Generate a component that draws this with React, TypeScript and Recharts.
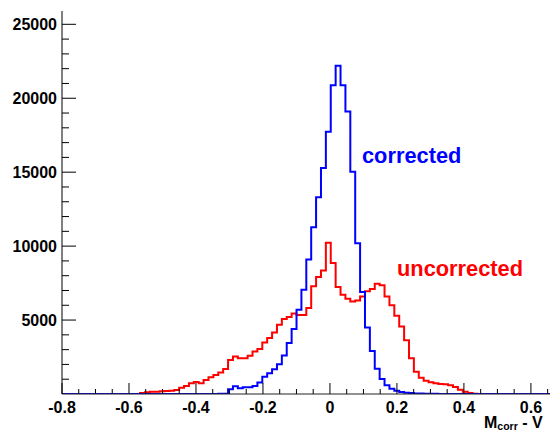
import React from 'react';
import { LineChart, Line, XAxis, YAxis } from 'recharts';

// histogram bins: left edge of first bin and bin width
const firstEdge = -0.567;
const binWidth = 0.0146;

const blueCounts = [
  0, 0, 0, 0, 0, 0, 0, 0, 0, 0,
  0, 0, 0, 0, 0, 0, 10, 20, 320, 520,
  390, 450, 450, 540, 770, 1170, 1400, 1670, 2010, 2600,
  3450, 4400, 5700, 7050, 9090, 11280, 13310, 15280, 17740, 20880,
  22190, 20880, 19100, 15030, 10190, 6890, 4500, 2900, 1700, 1020,
  600, 350, 220, 130, 80, 60, 40, 30, 20, 10,
  10, 0, 0, 0, 0, 0, 0, 0, 0,
];

const redCounts = [
  60, 120, 150, 160, 180, 200, 220, 270, 430, 540,
  730, 810, 730, 950, 1130, 1290, 1450, 1690, 2300, 2530,
  2420, 2420, 2580, 2870, 3050, 3480, 3780, 4160, 4680, 5080,
  5200, 5450, 5350, 5350, 5810, 7280, 7910, 8360, 10220, 8860,
  7230, 6710, 6440, 6260, 6330, 6600, 6940, 7100, 7450, 7350,
  6600, 6000, 5300, 4560, 3630, 2420, 1500, 1100, 900, 800,
  730, 670, 660, 600, 480, 280, 150, 60, 20,
];

const xMin = -0.8;
const xMax = 0.657;
const xMajorTicks = [-0.8, -0.6, -0.4, -0.2, 0, 0.2, 0.4, 0.6];
const yMajorTicks = [5000, 10000, 15000, 20000, 25000];

const xTicks: number[] = [];
for (let i = 0; i <= 29; i++) xTicks.push(+(xMin + i * 0.05).toFixed(2));
const yTicks: number[] = [];
for (let i = 1; i <= 25; i++) yTicks.push(i * 1000);

const data: { x: number; blue: number; red: number }[] = [{ x: xMin, blue: 0, red: 0 }];
blueCounts.forEach((b, i) => {
  data.push({ x: firstEdge + i * binWidth, blue: b, red: redCounts[i] });
});
data.push({ x: firstEdge + blueCounts.length * binWidth, blue: 0, red: 0 });
data.push({ x: xMax, blue: 0, red: 0 });

const font = '"Liberation Sans", Arial, Helvetica, sans-serif';

const XTick = (props: any) => {
  const { x, y, payload } = props;
  const v = payload.value;
  const major = xMajorTicks.some((m) => Math.abs(m - v) < 1e-6);
  const label = Math.abs(v) < 1e-6 ? '0' : v.toFixed(1);
  return (
    <g>
      <line x1={x} x2={x} y1={y} y2={y - (major ? 11 : 5)} stroke="#000" strokeWidth={1} />
      {major && (
        <text x={x} y={y + 18.5} textAnchor="middle" fontFamily={font} fontWeight="bold" fontSize={16} fill="#000">
          {label}
        </text>
      )}
    </g>
  );
};

const YTick = (props: any) => {
  const { x, y, payload } = props;
  const v = payload.value;
  const major = yMajorTicks.includes(v);
  return (
    <g>
      <line x1={x} x2={x + (major ? 14 : 7)} y1={y} y2={y} stroke="#000" strokeWidth={1} />
      {major && (
        <text x={x - 5} y={y + 5.5} textAnchor="end" fontFamily={font} fontWeight="bold" fontSize={16} fill="#000">
          {v}
        </text>
      )}
    </g>
  );
};

export default function App() {
  return (
    <div style={{ position: 'absolute', left: 0, top: 0, width: 550, height: 430, background: '#fff' }}>
      <LineChart width={550} height={430} data={data} margin={{ top: 11, right: 0, bottom: 0, left: 0 }}>
        <XAxis
          dataKey="x"
          type="number"
          domain={[xMin, xMax]}
          allowDataOverflow
          ticks={xTicks}
          interval={0}
          tick={<XTick />}
          tickLine={false}
          tickSize={0}
          tickMargin={0}
          height={36}
          axisLine={{ stroke: '#222', strokeWidth: 1 }}
        />
        <XAxis
          xAxisId="top"
          orientation="top"
          dataKey="x"
          type="number"
          domain={[xMin, xMax]}
          tick={false}
          tickLine={false}
          height={0}
          axisLine={{ stroke: '#444', strokeWidth: 1 }}
        />
        <YAxis
          type="number"
          domain={[0, 25900]}
          allowDataOverflow
          ticks={yTicks}
          interval={0}
          tick={<YTick />}
          tickLine={false}
          tickSize={0}
          tickMargin={0}
          width={62}
          axisLine={{ stroke: '#000', strokeWidth: 1 }}
        />
        <Line dataKey="red" type="stepAfter" stroke="#ff0000" strokeWidth={2} dot={false} isAnimationActive={false} />
        <Line dataKey="blue" type="stepAfter" stroke="#0000ff" strokeWidth={2} dot={false} isAnimationActive={false} />
      </LineChart>
      <svg width={550} height={430} style={{ position: 'absolute', left: 0, top: 0, pointerEvents: 'none' }}>
        <text x={362} y={163} fontFamily={font} fontWeight="bold" fontSize={21.8} fill="#0000ff">corrected</text>
        <text x={397} y={276} fontFamily={font} fontWeight="bold" fontSize={21.8} fill="#ff0000">uncorrected</text>
        <text x={484} y={428} fontFamily={font} fontWeight="bold" fontSize={16} fill="#000">
          M<tspan fontSize={10.5} dy={1.5}>corr</tspan>
          <tspan fontSize={16} dy={-1.5}> - V</tspan>
        </text>
      </svg>
    </div>
  );
}
